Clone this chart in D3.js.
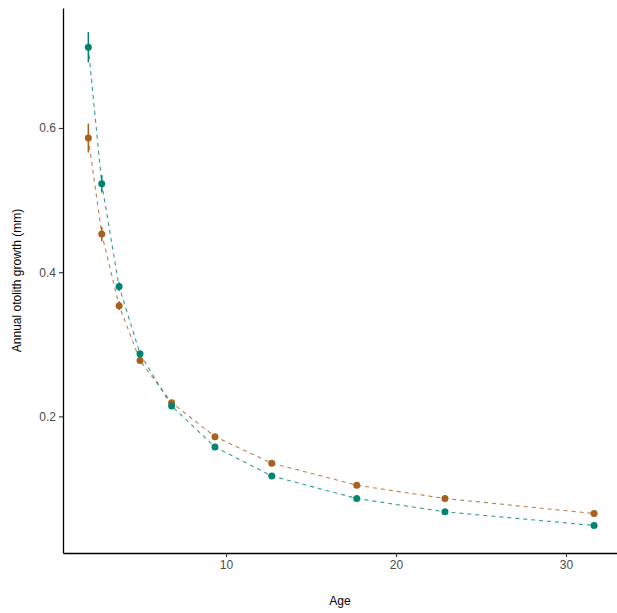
<!DOCTYPE html>
<html>
<head>
<meta charset="utf-8">
<script src="https://cdn.jsdelivr.net/npm/d3@7"></script>
<style>
  body { margin: 0; background: #fff; }
  text { font-family: "Liberation Sans", Arial, sans-serif; }
</style>
</head>
<body>
<svg id="chart"></svg>
<script>
// ages (shared by both groups)
const ages = [1.9, 2.69, 3.71, 4.94, 6.8, 9.35, 12.69, 17.69, 22.88, 31.65];

// group A (teal)
const tealGrowth = [0.712, 0.5225, 0.380, 0.2868, 0.2143, 0.1575, 0.1174, 0.0861, 0.0676, 0.0487];
const tealErr    = [0.021, 0.012, 0.006, 0.004, 0.003, 0.002, 0.002, 0.001, 0.001, 0.001];

// group B (brown)
const brownGrowth = [0.586, 0.453, 0.3536, 0.2775, 0.219, 0.1719, 0.135, 0.1045, 0.0861, 0.0653];
const brownErr    = [0.020, 0.010, 0.006, 0.004, 0.003, 0.002, 0.002, 0.001, 0.001, 0.001];

const xTicks = [10, 20, 30];
const yTicks = [0.2, 0.4, 0.6];

const series = [
  {name: "brown", color: "#a6611a", values: brownGrowth, err: brownErr},
  {name: "teal", color: "#018571", values: tealGrowth, err: tealErr}
];

const W = 617, H = 613;
const margin = {top: 8, right: 0, bottom: 60, left: 63};
const width = W - margin.left - margin.right;
const height = H - margin.top - margin.bottom;

const svg = d3.select("#chart").attr("width", W).attr("height", H);
const chart = svg.append("g").attr("transform", `translate(${margin.left},${margin.top})`);

const x = d3.scaleLinear().domain([0.41, 33.0]).range([0, width]);
const y = d3.scaleLinear().domain([0.0105, 0.7664]).range([height, 0]);

// lines
const line = d3.line().x(d => x(d[0])).y(d => y(d[1]));

series.forEach(s => {
  const pts = ages.map((a, i) => [a, s.values[i], s.err[i]]);
  const g = chart.append("g").attr("class", "series " + s.name);

  g.append("path")
    .datum(pts)
    .attr("d", line)
    .attr("fill", "none")
    .attr("stroke", s.color)
    .attr("stroke-opacity", 0.8)
    .attr("stroke-width", 1.1)
    .attr("stroke-dasharray", "4,4");

  g.selectAll("line.err")
    .data(pts)
    .join("line")
      .attr("class", "err")
      .attr("x1", d => x(d[0]))
      .attr("x2", d => x(d[0]))
      .attr("y1", d => y(d[1] - d[2]))
      .attr("y2", d => y(d[1] + d[2]))
      .attr("stroke", s.color)
      .attr("stroke-width", 1.5);

  g.selectAll("circle")
    .data(pts)
    .join("circle")
      .attr("cx", d => x(d[0]))
      .attr("cy", d => y(d[1]))
      .attr("r", 3.5)
      .attr("fill", s.color);
});

// axes
const xAxis = d3.axisBottom(x).tickValues(xTicks).tickSize(4).tickPadding(3).tickSizeOuter(0);
const yAxis = d3.axisLeft(y).tickValues(yTicks).tickFormat(d3.format(".1f")).tickSize(4).tickPadding(3).tickSizeOuter(0);

const xg = chart.append("g").attr("class", "axis x-axis")
  .attr("transform", `translate(0,${height})`).call(xAxis);
const yg = chart.append("g").attr("class", "axis y-axis").call(yAxis);

[xg, yg].forEach(g => {
  g.select(".domain").attr("stroke", "#000").attr("stroke-width", 1.3);
  g.selectAll(".tick line").attr("stroke", "#333").attr("stroke-width", 1.1);
  g.selectAll(".tick text").attr("fill", "#4d4d4d").attr("font-size", "12px")
    .attr("font-family", "Liberation Sans, Arial, sans-serif");
});

// titles
svg.append("text")
  .attr("x", margin.left + width / 2)
  .attr("y", 605)
  .attr("text-anchor", "middle")
  .attr("font-size", "12px")
  .attr("fill", "#000")
  .text("Age");

svg.append("text")
  .attr("transform", `translate(21,${margin.top + height / 2}) rotate(-90)`)
  .attr("text-anchor", "middle")
  .attr("font-size", "12px")
  .attr("fill", "#000")
  .text("Annual otolith growth (mm)");
</script>
</body>
</html>
